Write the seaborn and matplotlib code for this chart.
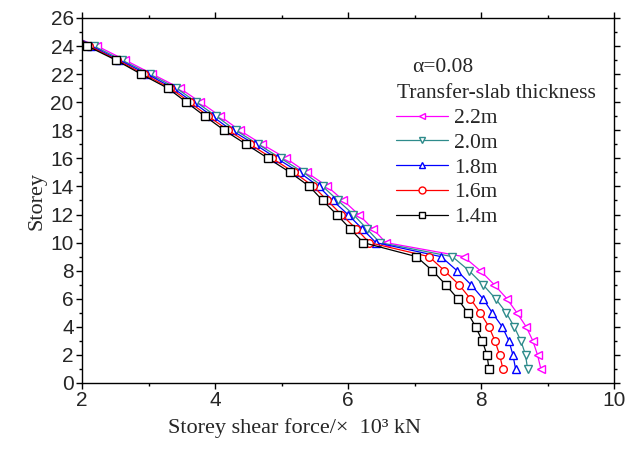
import matplotlib
matplotlib.use("Agg")
import matplotlib.pyplot as plt
import seaborn as sns
import pandas as pd
from matplotlib.ticker import MultipleLocator

storeys = list(range(1, 26))
labels = ["2.2m", "2.0m", "1.8m", "1.6m", "1.4m"]
force_22 = [8.90, 8.85, 8.78, 8.68, 8.54, 8.39, 8.20, 7.99, 7.74, 6.57, 6.37, 6.16, 5.93,
            5.69, 5.38, 5.07, 4.71, 4.37, 4.08, 3.78, 3.47, 3.06, 2.65, 2.23, 1.70]
force_20 = [8.70, 8.67, 8.60, 8.50, 8.38, 8.22, 8.03, 7.82, 7.57, 6.48, 6.28, 6.08, 5.85,
            5.62, 5.33, 4.99, 4.65, 4.31, 4.02, 3.72, 3.42, 3.02, 2.60, 2.18, 1.76]
force_18 = [8.52, 8.48, 8.42, 8.32, 8.17, 8.03, 7.85, 7.64, 7.40, 6.42, 6.21, 6.00, 5.77,
            5.56, 5.27, 4.93, 4.60, 4.25, 3.96, 3.67, 3.37, 2.98, 2.56, 2.14, 1.80]
force_16 = [8.33, 8.28, 8.21, 8.12, 7.99, 7.84, 7.67, 7.45, 7.22, 6.32, 6.12, 5.90, 5.69,
            5.48, 5.19, 4.86, 4.53, 4.20, 3.90, 3.62, 3.33, 2.93, 2.53, 2.11, 1.84]
force_14 = [8.12, 8.09, 8.02, 7.92, 7.80, 7.65, 7.47, 7.27, 7.03, 6.23, 6.03, 5.83, 5.62,
            5.42, 5.13, 4.80, 4.47, 4.14, 3.85, 3.57, 3.29, 2.89, 2.51, 2.08, 1.88]
series = [force_22, force_20, force_18, force_16, force_14]
colors = ["#FF00FF", "#2E8B8B", "#0000FF", "#FF0000", "#000000"]
markers = ["<", "v", "^", "o", "s"]

sns.set_style("ticks")
plt.rcParams["font.family"] = ["Liberation Sans", "DejaVu Sans"]

W, H = 627, 450
fig = plt.figure(figsize=(W / 100, H / 100), dpi=100)
ax = fig.add_axes([82 / W, 1 - 383 / H, (614 - 82) / W, (383 - 18) / H])

for lab, vals, c, m in zip(labels, series, colors, markers):
    df = pd.DataFrame({"force": vals, "storey": storeys})
    sns.lineplot(data=df, x="force", y="storey", sort=False, ax=ax, color=c,
                 marker=m, markersize=5.5, markerfacecolor="white",
                 markeredgecolor=c, markeredgewidth=1.0, linewidth=0.9,
                 label=lab, clip_on=True)

ax.set_xlim(2, 10)
ax.set_ylim(0, 26)
ax.xaxis.set_major_locator(MultipleLocator(2))
ax.xaxis.set_minor_locator(MultipleLocator(1))
ax.yaxis.set_major_locator(MultipleLocator(2))
ax.yaxis.set_minor_locator(MultipleLocator(1))
ax.tick_params(which="both", direction="out", top=True, right=True,
               labeltop=False, labelright=False, width=1.0, color="black")
ax.tick_params(which="major", length=4, labelsize=15, pad=2)
ax.tick_params(which="minor", length=2.5)
for s in ax.spines.values():
    s.set_linewidth(1.0)
    s.set_color("black")
    s.set_visible(True)

ax.set_xlabel("")
ax.set_ylabel("Storey", fontsize=16, family=["Liberation Serif"], labelpad=3)
fig.text(295 / W, 1 - 428 / H, "Storey shear force/\u00d7  10\u00b3 kN", ha="center",
         va="center", fontsize=16, family=["Liberation Serif", "DejaVu Serif"])

fig.text(443 / W, 1 - 67 / H, "\u03b1=0.08", ha="center", va="center",
         fontsize=15.5, family=["Liberation Serif", "DejaVu Serif"])
fig.text(397 / W, 1 - 93 / H, "Transfer-slab thickness", ha="left", va="center",
         fontsize=15.5, family=["Liberation Serif", "DejaVu Serif"])

leg = ax.legend(loc="upper left", bbox_to_anchor=(396 / W, 1 - 108 / H),
                bbox_transform=fig.transFigure, frameon=False, borderpad=0,
                borderaxespad=0, handlelength=2.4, handletextpad=0.3,
                labelspacing=0.22, prop={"family": "Liberation Serif", "size": 15.5})
for h in leg.legend_handles:
    h.set_markersize(5)

fig.savefig("out.png", dpi=100)
